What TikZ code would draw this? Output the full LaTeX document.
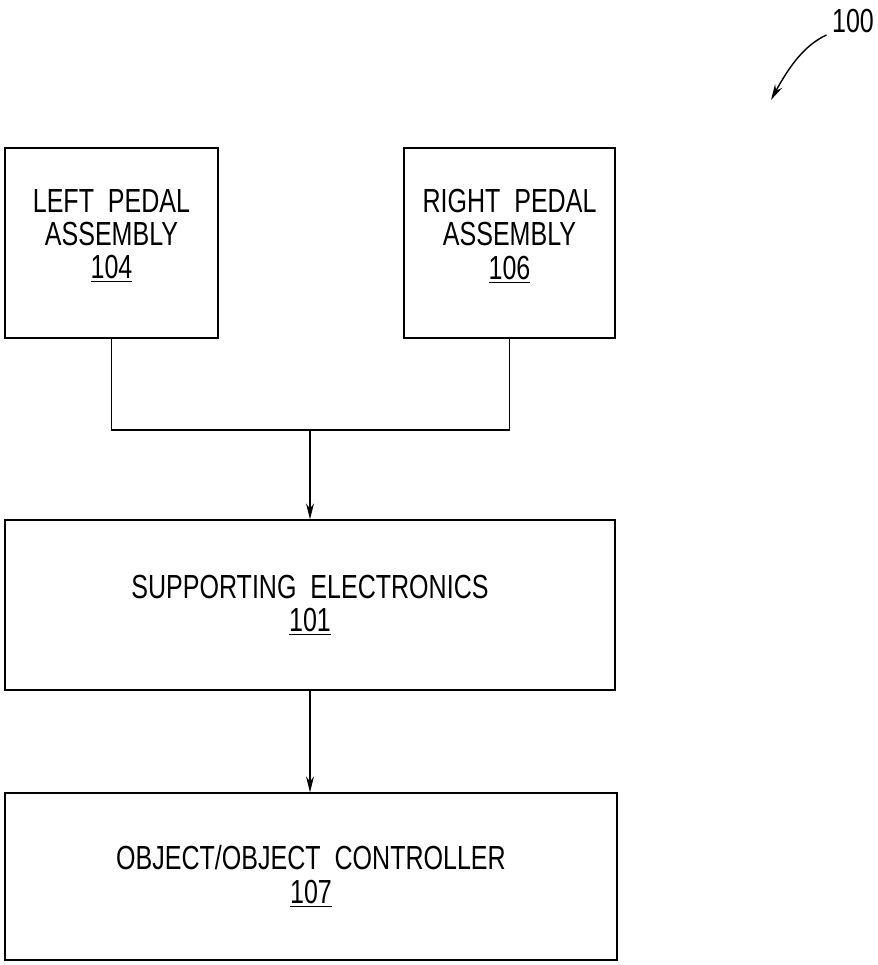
\documentclass[tikz,border=0pt]{standalone}
\usepackage{fontspec}
\setmainfont{Liberation Sans}[FakeStretch=0.75]
\usepackage{tikz}
\usetikzlibrary{arrows.meta,positioning,calc}

\begin{document}
\begin{tikzpicture}[
    box/.style={draw, line width=0.8pt, minimum height=3.8cm},
    txt/.style={align=center, inner sep=0pt, font=\fontsize{19}{19}\selectfont},
    flow/.style={line width=0.8pt, -{Stealth[length=9pt,width=4.5pt]}},
    wire/.style={line width=0.8pt}
]
    \useasboundingbox (0,0) rectangle (17.56,-19.3);

    % Pedal assemblies
    \node[box, minimum width=4.26cm] (left) at (2.23,-4.86) {};
    \node[txt] (lefttxt) at ($(left)+(0,0.14)$) {LEFT~~PEDAL\\ASSEMBLY\\\underline{104}};
    \node[box, minimum width=4.22cm] (right) at (10.19,-4.86) {};
    \node[txt] (righttxt) at ($(right)+(0,0.14)$) {RIGHT~~PEDAL\\ASSEMBLY\\\underline{106}};

    % Supporting electronics
    \node[box, minimum width=12.2cm, minimum height=3.4cm] (support) at (6.2,-12.1) {};
    \node[txt] (supporttxt) at (support) {SUPPORTING~~ELECTRONICS\\\underline{101}};

    % Object / controller
    \node[box, minimum width=12.24cm, minimum height=3.34cm] (object) at (6.22,-17.53) {};
    \node[txt] (objecttxt) at (object) {OBJECT/OBJECT~~CONTROLLER\\\underline{107}};

    % Joining the two pedals
    \coordinate (join) at (6.2,-8.6);
    \draw[wire] (left.south) |- (join) -| (right.south);

    % Arrows
    \draw[flow] (join) -- (support.north);
    \draw[flow] (support.south) -- (support.south |- object.north);

    % Reference numeral
    \node[txt] (ref100) at (17.06,-0.42) {100};
    \coordinate (tip) at (15.42,-2.0);
    \draw[flow] ([xshift=-3pt,yshift=-1pt]ref100.south west) .. controls (16.1,-0.9) and (15.8,-1.3) .. (tip);
\end{tikzpicture}
\end{document}
